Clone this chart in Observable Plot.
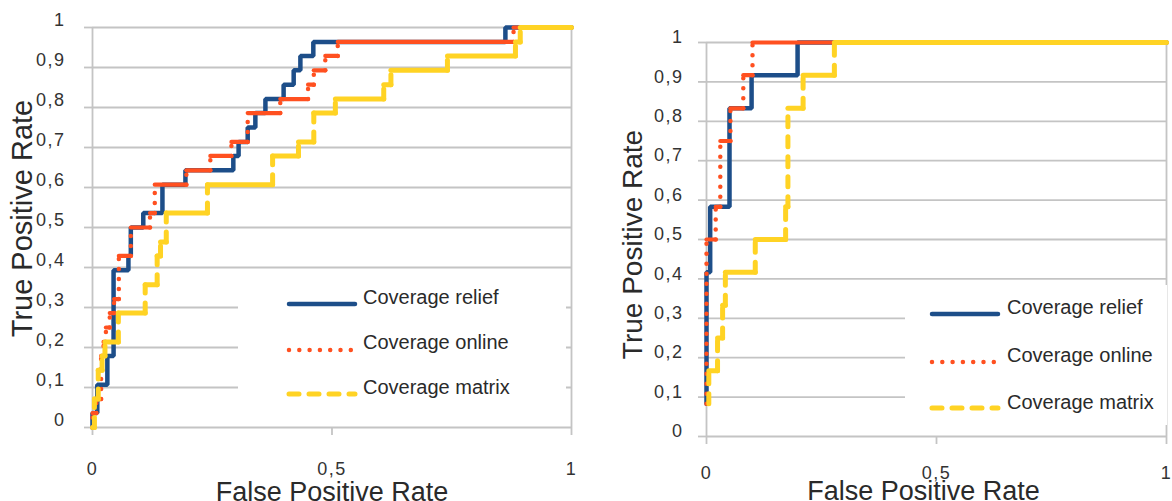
<!DOCTYPE html>
<html>
<head>
<meta charset="utf-8">
<script src="https://cdn.jsdelivr.net/npm/d3@7"></script>
<script src="https://cdn.jsdelivr.net/npm/@observablehq/plot@0.6"></script>
<style>
  html, body { margin: 0; padding: 0; background: #fff; }
  #wrap { position: relative; width: 1172px; height: 501px; overflow: hidden; background: #fff; font-family: "Liberation Sans", Arial, sans-serif; }
  #wrap > .panel { position: absolute; top: 0; }
  .ticklab text { letter-spacing: 1.5px; }
  .legend { position: absolute; background: #fff; }
  .legend svg { display: block; }
</style>
</head>
<body>
<div id="wrap">
  <div class="panel" id="left" style="left:0"></div>
  <div class="panel" id="right" style="left:586px"></div>
  <div class="legend" id="legL" style="left:238px; top:278px; width:328px; height:142px;"></div>
  <div class="legend" id="legR" style="left:905px; top:285px; width:262px; height:140px;"></div>
</div>
<script>
// ---------- data ----------
const seriesNames = ["Coverage relief", "Coverage online", "Coverage matrix"];
const xTicks = [0, 0.5, 1];
const yTicks = [0, 0.1, 0.2, 0.3, 0.4, 0.5, 0.6, 0.7, 0.8, 0.9, 1];

// Left panel
const leftReliefFpr = [0, 0, 0.01, 0.01, 0.031, 0.031, 0.044, 0.044, 0.075, 0.075, 0.08, 0.08, 0.106, 0.106, 0.146, 0.146, 0.194, 0.194, 0.294, 0.294, 0.305, 0.305, 0.324, 0.324, 0.34, 0.34, 0.361, 0.361, 0.399, 0.399, 0.42, 0.42, 0.434, 0.434, 0.461, 0.461, 0.862, 0.862, 1];
const leftReliefTpr = [0, 0.036, 0.036, 0.107, 0.107, 0.179, 0.179, 0.393, 0.393, 0.429, 0.429, 0.5, 0.5, 0.536, 0.536, 0.607, 0.607, 0.643, 0.643, 0.679, 0.679, 0.714, 0.714, 0.75, 0.75, 0.786, 0.786, 0.821, 0.821, 0.857, 0.857, 0.893, 0.893, 0.929, 0.929, 0.964, 0.964, 1, 1];

const leftOnlineFpr = [0, 0, 0.008, 0.008, 0.018, 0.018, 0.023, 0.023, 0.028, 0.028, 0.036, 0.036, 0.045, 0.045, 0.055, 0.055, 0.08, 0.08, 0.12, 0.12, 0.13, 0.13, 0.196, 0.196, 0.246, 0.246, 0.29, 0.29, 0.324, 0.324, 0.392, 0.392, 0.45, 0.45, 0.462, 0.462, 0.486, 0.486, 0.512, 0.512, 0.879, 0.879, 1];
const leftOnlineTpr = [0, 0.036, 0.036, 0.071, 0.071, 0.179, 0.179, 0.214, 0.214, 0.25, 0.25, 0.286, 0.286, 0.321, 0.321, 0.429, 0.429, 0.5, 0.5, 0.536, 0.536, 0.607, 0.607, 0.643, 0.643, 0.679, 0.679, 0.714, 0.714, 0.786, 0.786, 0.821, 0.821, 0.857, 0.857, 0.893, 0.893, 0.929, 0.929, 0.964, 0.964, 1, 1];

const leftMatrixFpr = [0, 0.004, 0.004, 0.012, 0.012, 0.02, 0.02, 0.026, 0.026, 0.054, 0.054, 0.11, 0.11, 0.135, 0.135, 0.142, 0.142, 0.154, 0.154, 0.24, 0.24, 0.376, 0.376, 0.43, 0.43, 0.462, 0.462, 0.507, 0.507, 0.608, 0.608, 0.623, 0.623, 0.741, 0.741, 0.883, 0.883, 0.893, 0.893, 1];
const leftMatrixTpr = [0, 0, 0.071, 0.071, 0.143, 0.143, 0.179, 0.179, 0.214, 0.214, 0.286, 0.286, 0.357, 0.357, 0.429, 0.429, 0.464, 0.464, 0.536, 0.536, 0.607, 0.607, 0.679, 0.679, 0.714, 0.714, 0.786, 0.786, 0.821, 0.821, 0.857, 0.857, 0.893, 0.893, 0.929, 0.929, 0.964, 0.964, 1, 1];

// Right panel
const rightReliefFpr = [0, 0, 0.008, 0.008, 0.05, 0.05, 0.098, 0.098, 0.198, 0.198, 1];
const rightReliefTpr = [0.083, 0.417, 0.417, 0.583, 0.583, 0.833, 0.833, 0.917, 0.917, 1, 1];

const rightOnlineFpr = [0, 0, 0.02, 0.02, 0.03, 0.03, 0.052, 0.052, 0.08, 0.08, 0.1, 0.1, 1];
const rightOnlineTpr = [0.083, 0.5, 0.5, 0.583, 0.583, 0.75, 0.75, 0.833, 0.833, 0.917, 0.917, 1, 1];

const rightMatrixFpr = [0.005, 0.005, 0.024, 0.024, 0.035, 0.035, 0.041, 0.041, 0.106, 0.106, 0.172, 0.172, 0.177, 0.177, 0.21, 0.21, 0.278, 0.278, 1];
const rightMatrixTpr = [0.083, 0.167, 0.167, 0.25, 0.25, 0.333, 0.333, 0.417, 0.417, 0.5, 0.5, 0.583, 0.583, 0.833, 0.833, 0.917, 0.917, 1, 1];

// ---------- styling ----------
const BLUE = "#1d4e89", ORANGE = "#ff5020", YELLOW = "#ffd324";
const GRID = "#c4c4c4", TEXT = "#2a2a2a";
const fmt = d => String(d).replace(".", ",");

const pts = (fx, ty) => fx.map((x, i) => ({x, y: ty[i]}));
const segs = (fx, ty) => fx.slice(1).map((x, i) => ({x1: fx[i], y1: ty[i], x2: x, y2: ty[i + 1], horiz: ty[i] === ty[i + 1]}));

function panel(o) {
  const oS = segs(o.online[0], o.online[1]);
  const mS = segs(o.matrix[0], o.matrix[1]);
  return Plot.plot({
    width: 586, height: 501,
    marginLeft: o.ml, marginRight: o.mr, marginTop: o.mt, marginBottom: o.mb,
    x: {domain: [0, 1], axis: null},
    y: {domain: [0, 1], axis: null},
    style: {fontFamily: "'Liberation Sans', Arial, sans-serif", background: "transparent", overflow: "visible"},
    marks: [
      Plot.ruleY(yTicks, {stroke: GRID, strokeWidth: 1.8}),
      Plot.ruleX([0, 1], {stroke: GRID, strokeWidth: 1.8}),
      Plot.axisY({ticks: yTicks, tickSize: 8, tickFormat: () => "", stroke: GRID, strokeWidth: 1.8, strokeOpacity: 1}),
      Plot.axisY({ticks: yTicks, tickSize: 0, tickPadding: o.yPad, dy: o.yDy, tickFormat: fmt, fontSize: 18, fill: "#333", className: "ticklab"}),
      Plot.axisX({ticks: xTicks, tickSize: 8, tickFormat: () => "", stroke: GRID, strokeWidth: 1.8, strokeOpacity: 1}),
      Plot.axisX({ticks: xTicks, tickSize: 0, tickPadding: o.xPad, tickFormat: fmt, fontSize: 18, fill: "#333", className: "ticklab"}),
      // Coverage relief: solid
      Plot.line(pts(o.relief[0], o.relief[1]), {x: "x", y: "y", stroke: BLUE, strokeWidth: 4.5, strokeLinejoin: "miter", curve: "linear"}),
      // Coverage online: dotted risers, solid runs
      Plot.link(oS.filter(d => d.horiz), {x1: "x1", y1: "y1", x2: "x2", y2: "y2", stroke: ORANGE, strokeWidth: 4.2, strokeLinecap: "round"}),
      Plot.link(oS.filter(d => !d.horiz), {x1: "x1", y1: "y1", x2: "x2", y2: "y2", stroke: ORANGE, strokeWidth: 4.5, strokeLinecap: "round", strokeDasharray: "0,10"}),
      // Coverage matrix: dashed risers, solid runs
      Plot.link(mS.filter(d => d.horiz), {x1: "x1", y1: "y1", x2: "x2", y2: "y2", stroke: YELLOW, strokeWidth: 5, strokeLinecap: "round"}),
      Plot.link(mS.filter(d => !d.horiz), {x1: "x1", y1: "y1", x2: "x2", y2: "y2", stroke: YELLOW, strokeWidth: 5, strokeLinecap: "round", strokeDasharray: o.dash}),
      // axis titles
      Plot.text(["False Positive Rate"], {frameAnchor: "bottom", lineAnchor: "top", textAnchor: "middle", dx: o.xtDx, dy: o.xtDy, fontSize: 27, fill: TEXT}),
      Plot.text(["True Positive Rate"], {frameAnchor: "left", textAnchor: "middle", lineAnchor: "middle", rotate: -90, dx: o.ytDx, dy: o.ytDy, fontSize: o.ytSize, fill: TEXT})
    ]
  });
}

document.getElementById("left").append(panel({
  ml: 92, mr: 15, mt: 27, mb: 74, yPad: 27, yDy: -7, xPad: 35,
  xtDx: 0, xtDy: 54, ytDx: -70, ytDy: -9, ytSize: 29, dash: "10,10",
  relief: [leftReliefFpr, leftReliefTpr], online: [leftOnlineFpr, leftOnlineTpr], matrix: [leftMatrixFpr, leftMatrixTpr]
}));
document.getElementById("right").append(panel({
  ml: 120, mr: 6, mt: 42, mb: 65, yPad: 23, yDy: -5, xPad: 30,
  xtDx: -13, xtDy: 44, ytDx: -73, ytDy: 5, ytSize: 28, dash: "10,10",
  relief: [rightReliefFpr, rightReliefTpr], online: [rightOnlineFpr, rightOnlineTpr], matrix: [rightMatrixFpr, rightMatrixTpr]
}));

// ---------- legends ----------
function legend(el, g) {
  const styles = [
    {stroke: BLUE, width: 4.5, dash: null, cap: "round"},
    {stroke: ORANGE, width: 4.5, dash: "0,10.3", cap: "round"},
    {stroke: YELLOW, width: 5, dash: "10,10", cap: "round"}
  ];
  const svg = d3.create("svg").attr("width", g.w).attr("height", g.h);
  seriesNames.forEach((name, i) => {
    const s = styles[i];
    svg.append("line")
      .attr("x1", g.lx1).attr("x2", g.lx2).attr("y1", g.ly[i]).attr("y2", g.ly[i])
      .attr("stroke", s.stroke).attr("stroke-width", s.width).attr("stroke-linecap", s.cap)
      .attr("stroke-dasharray", s.dash);
    svg.append("text")
      .attr("x", g.tx).attr("y", g.ty[i]).attr("dy", "0.35em")
      .attr("font-family", "'Liberation Sans', Arial, sans-serif").attr("font-size", 20)
      .attr("fill", TEXT).text(name);
  });
  el.append(svg.node());
}
legend(document.getElementById("legL"), {w: 328, h: 142, lx1: 51, lx2: 117, ly: [26, 72, 116], tx: 125, ty: [19, 64, 109]});
legend(document.getElementById("legR"), {w: 262, h: 140, lx1: 27, lx2: 93, ly: [29, 77, 123], tx: 102, ty: [22, 70, 117]});
</script>
</body>
</html>
